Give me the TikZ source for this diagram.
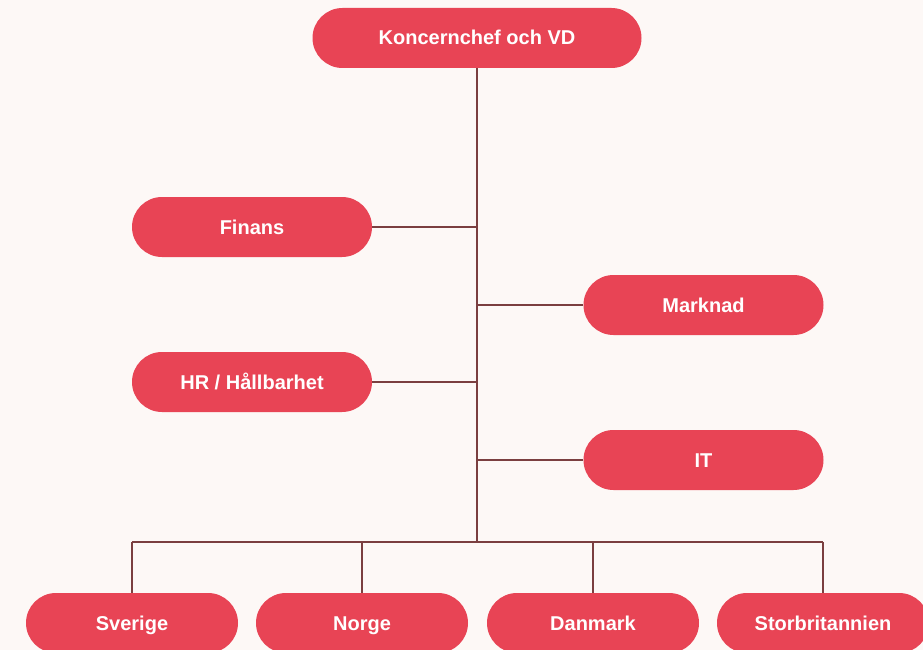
\documentclass[tikz,border=0pt]{standalone}
\usepackage{fontspec}
\setmainfont{Liberation Sans}
\definecolor{bgpink}{HTML}{FDF8F6}
\definecolor{boxred}{HTML}{E84455}
\definecolor{linebrown}{HTML}{7B3F40}
\begin{document}
\begin{tikzpicture}[x=1pt, y=-1pt,
	unit/.style = {fill=boxred, text=white, font=\bfseries\fontsize{20}{24}\selectfont,
		rounded corners=30pt, minimum height=60pt, inner sep=0pt,
		text height=14pt, text depth=0pt},
	link/.style = {draw=linebrown, line width=1.2pt}]
\clip (0,0) rectangle (923,650);
\fill[bgpink] (0,0) rectangle (923,650);
\useasboundingbox (0,0) rectangle (923,650);

\node[unit, minimum width=329pt] (ceo) at (477,38) {Koncernchef och VD};
\node[unit, minimum width=240pt] (fin) at (252,227) {Finans};
\node[unit, minimum width=240pt] (mark) at (703.5,305) {Marknad};
\node[unit, minimum width=240pt] (hr) at (252,382) {HR / Hållbarhet};
\node[unit, minimum width=240pt] (it) at (703.5,460) {IT};
\foreach \name/\x/\txt in {se/132/Sverige, no/362/Norge, dk/593/Danmark, uk/823/Storbritannien}
{
	\node[unit, minimum width=212pt] (\name) at (\x,623) {\txt};
}

\coordinate (bus) at (477,542);
\draw[link] (ceo.south) -- (bus);
\draw[link] (fin.east) -- (fin.east -| bus);
\draw[link] (hr.east) -- (hr.east -| bus);
\draw[link] (mark.west) -- (mark.west -| bus);
\draw[link] (it.west) -- (it.west -| bus);
\draw[link] (se.north |- bus) -- (uk.north |- bus);
\foreach \name in {se,no,dk,uk}
{
	\draw[link] (\name.north) -- (\name.north |- bus);
}
\end{tikzpicture}
\end{document}
